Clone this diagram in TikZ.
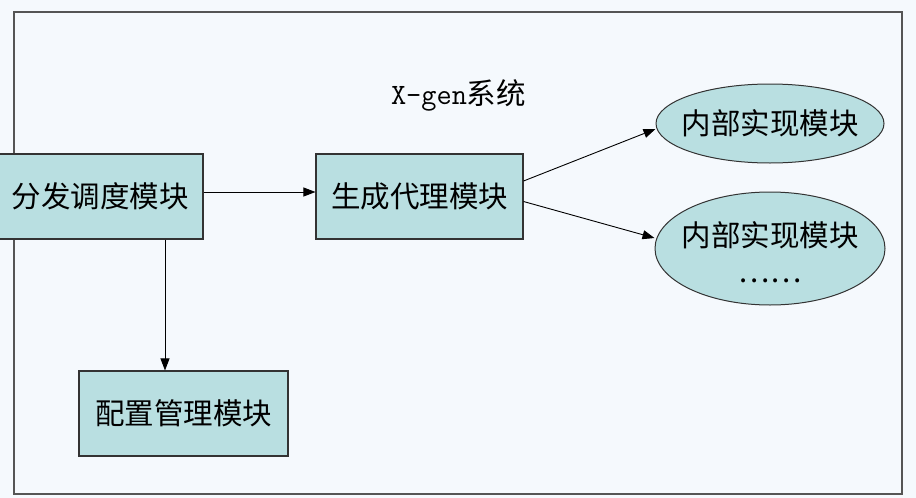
\documentclass[tikz,border=0pt]{standalone}
\usepackage{fontspec}
\newfontfamily\cjk{Noto Sans CJK SC}
\usetikzlibrary{arrows.meta,shapes.geometric}
\definecolor{bgc}{HTML}{F5F9FD}
\definecolor{boxfill}{HTML}{B9DFE1}
\definecolor{framec}{HTML}{555555}
\newcommand{\lowertxt}[1]{\raisebox{-4pt}[\height][\depth]{#1}}
\begin{document}
\begin{tikzpicture}[x=1pt,y=-1pt,
  modbox/.style={draw=black!80,line width=1.1pt,fill=boxfill,rectangle,minimum height=85pt,inner sep=0pt,font=\fontsize{29.5}{34}\selectfont\cjk},
  modell/.style={draw=black!80,line width=1pt,fill=boxfill,ellipse,inner xsep=-40pt,inner ysep=-15pt,font=\fontsize{29.5}{34}\selectfont\cjk,align=center},
  arr/.style={draw=black,line width=0.9pt,-{Triangle[length=12pt,width=9pt]}}]
\useasboundingbox (0,0) rectangle (916,498);
\fill[bgc] (0,0) rectangle (916,498);
\draw[framec,line width=1.6pt] (14,12) rectangle (902,494);
\node (title) at (458.5,95) {\fontsize{29.5}{34}\selectfont\ttfamily X-gen\cjk 系统};
\node[modbox,minimum width=205pt] (dispatch) at (100.5,196.5) {分发调度模块};
\node[modbox,minimum width=207pt] (agent) at (419.5,196.5) {生成代理模块};
\node[modbox,minimum width=209pt] (config) at (183.5,413.5) {配置管理模块};
\node[modell,minimum width=228pt,minimum height=79pt] (impl1) at (770,123.5) {内部实现模块};
\node[modell,minimum width=230pt,minimum height=113pt] (impl2) at (770,248.5) {\lowertxt{内部实现模块}\\[2pt]\lowertxt{……}};
\draw[arr] ([yshift=4.5pt]dispatch.east) -- ([yshift=4.5pt]agent.west);
\draw[arr] ([xshift=64.5pt]dispatch.south) -- ([xshift=64.5pt]dispatch.south |- config.north);
\draw[arr] ([yshift=15.5pt]agent.east) -- ([yshift=-5.5pt]impl1.west);
\draw[arr] ([yshift=-5pt]agent.east) -- ([yshift=10.5pt]impl2.west);
\end{tikzpicture}
\end{document}
